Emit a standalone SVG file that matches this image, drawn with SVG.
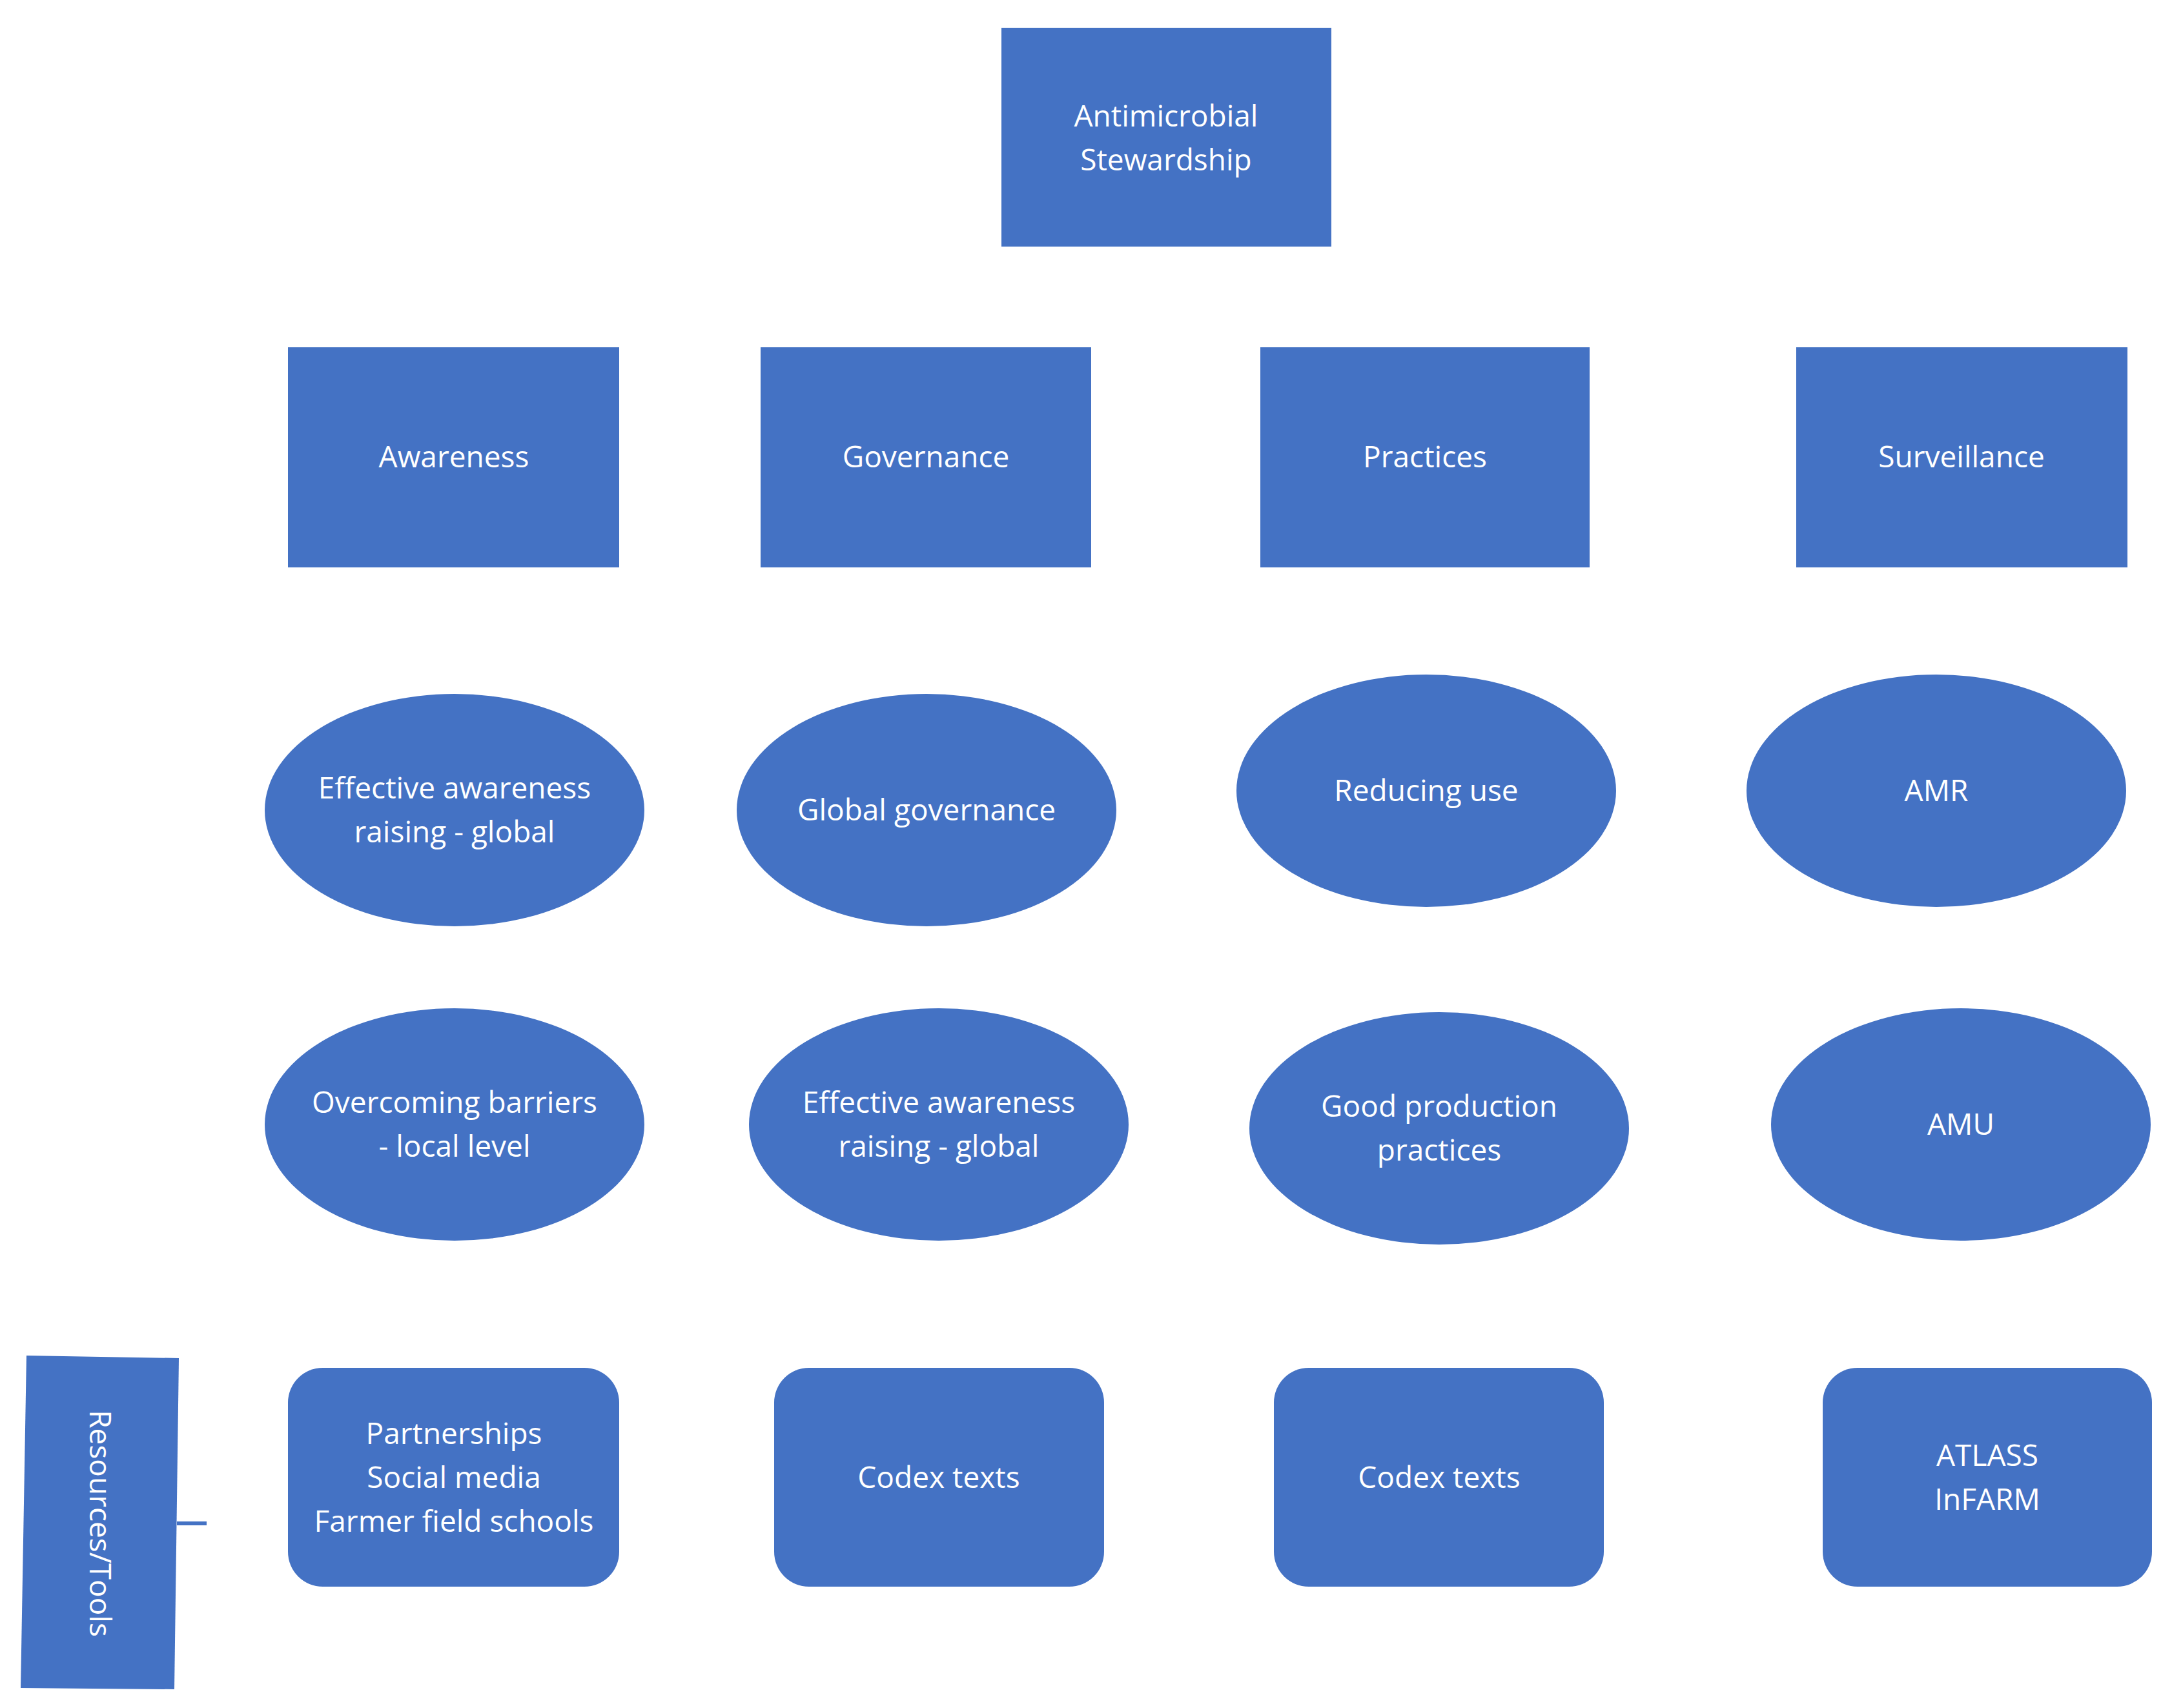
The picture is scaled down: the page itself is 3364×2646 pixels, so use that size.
<svg xmlns="http://www.w3.org/2000/svg" width="3364" height="2646" viewBox="0 0 3364 2646">
<style>
.n{fill:#4472C4}
text{font-family:"Open Sans","Noto Sans",sans-serif;font-size:46px;fill:#fff;text-anchor:middle}
</style>
<rect width="3364" height="2646" fill="#fff"/>
<g id="connectors"><line x1="274" y1="2360" x2="320" y2="2360" stroke="#4472C4" stroke-width="6"/></g>
<g id="root"><rect class="n" x="1551" y="43" width="511" height="339"/><text x="1806" y="196">Antimicrobial</text><text x="1806" y="264">Stewardship</text></g>
<g id="awareness"><rect class="n" x="446" y="538" width="513" height="341"/><text x="703" y="724">Awareness</text></g>
<g id="governance"><rect class="n" x="1178" y="538" width="512" height="341"/><text x="1434" y="724">Governance</text></g>
<g id="practices"><rect class="n" x="1952" y="538" width="510" height="341"/><text x="2207" y="724">Practices</text></g>
<g id="surveillance"><rect class="n" x="2782" y="538" width="513" height="341"/><text x="3038" y="724">Surveillance</text></g>
<g id="e1"><ellipse class="n" cx="704" cy="1255" rx="294" ry="180"/><text x="704" y="1237">Effective awareness</text><text x="704" y="1305">raising - global</text></g>
<g id="e2"><ellipse class="n" cx="1435" cy="1255" rx="294" ry="180"/><text x="1435" y="1271">Global governance</text></g>
<g id="e3"><ellipse class="n" cx="2209" cy="1225" rx="294" ry="180"/><text x="2209" y="1241">Reducing use</text></g>
<g id="e4"><ellipse class="n" cx="2999" cy="1225" rx="294" ry="180"/><text x="2999" y="1241">AMR</text></g>
<g id="e5"><ellipse class="n" cx="704" cy="1742" rx="294" ry="180"/><text x="704" y="1724">Overcoming barriers</text><text x="704" y="1792">- local level</text></g>
<g id="e6"><ellipse class="n" cx="1454" cy="1742" rx="294" ry="180"/><text x="1454" y="1724">Effective awareness</text><text x="1454" y="1792">raising - global</text></g>
<g id="e7"><ellipse class="n" cx="2229" cy="1748" rx="294" ry="180"/><text x="2229" y="1730">Good production</text><text x="2229" y="1798">practices</text></g>
<g id="e8"><ellipse class="n" cx="3037" cy="1742" rx="294" ry="180"/><text x="3037" y="1758">AMU</text></g>
<g id="r1"><rect class="n" x="446" y="2119" width="513" height="339" rx="54"/><text x="703" y="2237">Partnerships</text><text x="703" y="2305">Social media</text><text x="703" y="2373">Farmer field schools</text></g>
<g id="r2"><rect class="n" x="1199" y="2119" width="511" height="339" rx="54"/><text x="1454" y="2305">Codex texts</text></g>
<g id="r3"><rect class="n" x="1973" y="2119" width="511" height="339" rx="54"/><text x="2229" y="2305">Codex texts</text></g>
<g id="r4"><rect class="n" x="2823" y="2119" width="510" height="339" rx="54"/><text x="3078" y="2271">ATLASS</text><text x="3078" y="2339">InFARM</text></g>
<g id="resources"><polygon class="n" points="41,2100 277,2104 270,2617 32,2615"/><text transform="translate(155,2360) rotate(90)" y="16">Resources/Tools</text></g>
</svg>
